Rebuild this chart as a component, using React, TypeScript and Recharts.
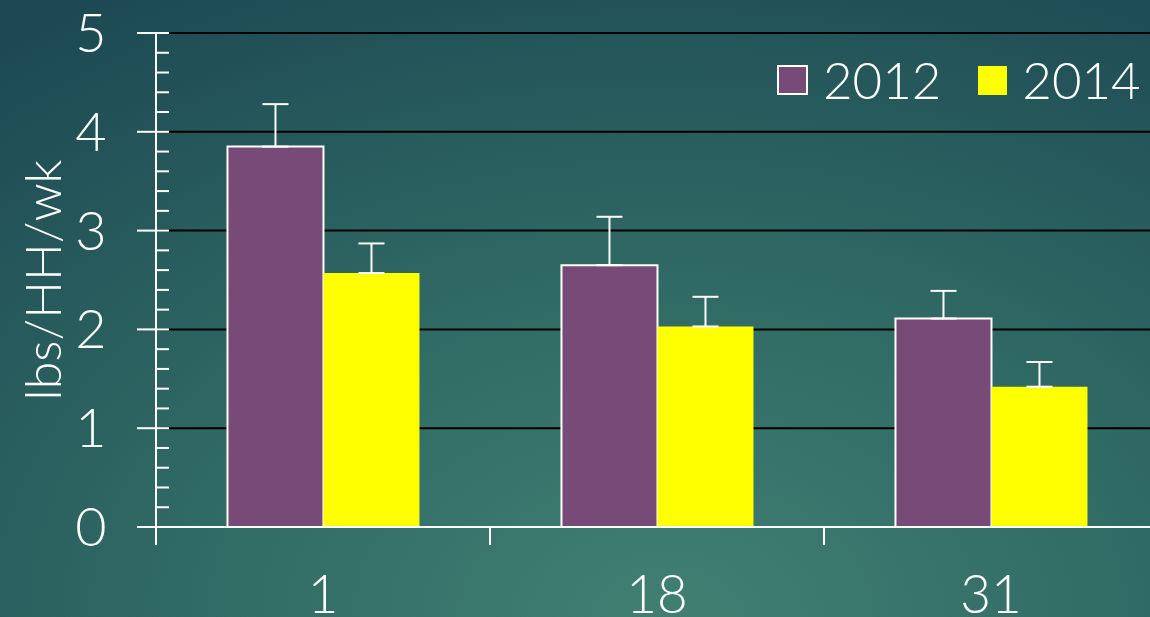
import React from "react";
import {
  BarChart,
  Bar,
  XAxis,
  YAxis,
  CartesianGrid,
  ErrorBar,
  Label,
} from "recharts";

const categories = ["1", "18", "31"];
const values2012 = [3.85, 2.65, 2.11];
const values2014 = [2.57, 2.03, 1.42];
const err2012 = [0.43, 0.49, 0.28];
const err2014 = [0.3, 0.3, 0.25];
const seriesNames = ["2012", "2014"];
const seriesColors = ["#774A78", "#FFFF00"];
const yMajorTicks = [0, 1, 2, 3, 4, 5];
const yAllTicks = [
  0, 0.2, 0.4, 0.6, 0.8, 1, 1.2, 1.4, 1.6, 1.8, 2, 2.2, 2.4, 2.6, 2.8, 3, 3.2,
  3.4, 3.6, 3.8, 4, 4.2, 4.4, 4.6, 4.8, 5,
];
const frameTicks = [0, 1, 2, 3];
const yTitle = "lbs/HH/wk";

const data = categories.map((c, i) => ({
  name: c,
  idx: i + 0.5,
  v2012: values2012[i],
  v2014: values2014[i],
  e2012: [0, err2012[i]],
  e2014: [0, err2014[i]],
}));

const FONT = "Lato, 'Open Sans', sans-serif";

const YTick = (props: any) => {
  const { x, y, payload } = props;
  const v = payload.value;
  const major = yMajorTicks.some((m) => Math.abs(m - v) < 1e-6);
  return (
    <g>
      <line
        x1={major ? x - 19 : x}
        x2={x + 13}
        y1={y}
        y2={y}
        stroke="#ffffff"
        strokeWidth={2}
      />
      {major && (
        <text
          x={x - 65}
          y={y}
          dy={19}
          textAnchor="middle"
          fill="#ffffff"
          fontSize={54}
          fontWeight={300}
          fontFamily={FONT}
        >
          {v}
        </text>
      )}
    </g>
  );
};

const XTick = (props: any) => {
  const { x, y, payload } = props;
  return (
    <text
      x={x}
      y={y + 85}
      textAnchor="middle"
      fill="#ffffff"
      fontSize={53}
      fontWeight={300}
      fontFamily={FONT}
    >
      {payload.value}
    </text>
  );
};

const FrameTick = (props: any) => {
  const { x, y } = props;
  return <line x1={x} x2={x} y1={y} y2={y + 18} stroke="#ffffff" strokeWidth={2} />;
};

const LegendBox = () => (
  <div
    style={{
      position: "absolute",
      top: 54,
      left: 777,
      display: "flex",
      alignItems: "center",
      fontFamily: FONT,
    }}
  >
    {seriesNames.map((n, i) => (
      <div
        key={n}
        style={{ display: "flex", alignItems: "center", marginRight: i === 0 ? 37 : 0 }}
      >
        <div
          style={{
            width: i === 0 ? 27 : 29,
            height: i === 0 ? 26 : 29,
            background: seriesColors[i],
            border: i === 0 ? "2px solid #ffffff" : "none",
            marginRight: 15,
          }}
        />
        <span style={{ color: "#ffffff", fontSize: 51, fontWeight: 300, lineHeight: "52px" }}>
          {n}
        </span>
      </div>
    ))}
  </div>
);

export default function App() {
  return (
    <div
      style={{
        position: "absolute",
        left: 0,
        top: 0,
        width: 1150,
        height: 617,
        overflow: "hidden",
        background:
          "radial-gradient(ellipse 95% 120% at 58% 100%, #417f73 0%, #306a64 45%, #1c4853 100%)",
      }}
    >
      <BarChart
        width={1160}
        height={617}
        data={data}
        margin={{ top: 33, right: 2, bottom: 0, left: 0 }}
        barGap={0}
        barCategoryGap="21.4%"
      >
        <CartesianGrid
          xAxisId="b"
          horizontal
          vertical={false}
          stroke="#000000"
          strokeWidth={2}
          horizontalValues={[1, 2, 3, 4, 5]}
        />
        <XAxis
          xAxisId="a"
          type="number"
          dataKey="idx"
          domain={[0, 3]}
          ticks={frameTicks}
          interval={0}
          height={1}
          tick={<FrameTick />}
          tickSize={0}
          tickMargin={0}
          tickLine={false}
          axisLine={{ stroke: "#ffffff", strokeWidth: 2 }}
          allowDataOverflow
        />
        <XAxis
          xAxisId="b"
          dataKey="name"
          height={89}
          tickLine={false}
          axisLine={false}
          tickSize={0}
          tickMargin={0}
          tick={<XTick />}
          interval={0}
        />
        <YAxis
          width={156}
          domain={[0, 5]}
          ticks={yAllTicks}
          interval={0}
          tickLine={false}
          tickSize={0}
          tickMargin={0}
          tick={<YTick />}
          axisLine={{ stroke: "#ffffff", strokeWidth: 2 }}
        >
          <Label
            content={(p: any) => {
              const vb = p.viewBox;
              const cx = vb.x + 42;
              const cy = vb.y + vb.height / 2;
              return (
                <text
                  x={cx}
                  y={cy}
                  transform={`rotate(-90 ${cx} ${cy})`}
                  textAnchor="middle"
                  dominantBaseline="central"
                  fill="#ffffff"
                  fontSize={50}
                  fontWeight={300}
                  fontFamily={FONT}
                >
                  {yTitle}
                </text>
              );
            }}
          />
        </YAxis>
        <Bar
          xAxisId="b"
          dataKey="v2012"
          name={seriesNames[0]}
          fill={seriesColors[0]}
          stroke="#ffffff"
          strokeWidth={2}
          isAnimationActive={false}
        >
          <ErrorBar dataKey="e2012" direction="y" width={13} stroke="#ffffff" strokeWidth={2} />
        </Bar>
        <Bar
          xAxisId="b"
          dataKey="v2014"
          name={seriesNames[1]}
          fill={seriesColors[1]}
          isAnimationActive={false}
        >
          <ErrorBar dataKey="e2014" direction="y" width={13} stroke="#ffffff" strokeWidth={2} />
        </Bar>
      </BarChart>
      <LegendBox />
    </div>
  );
}
